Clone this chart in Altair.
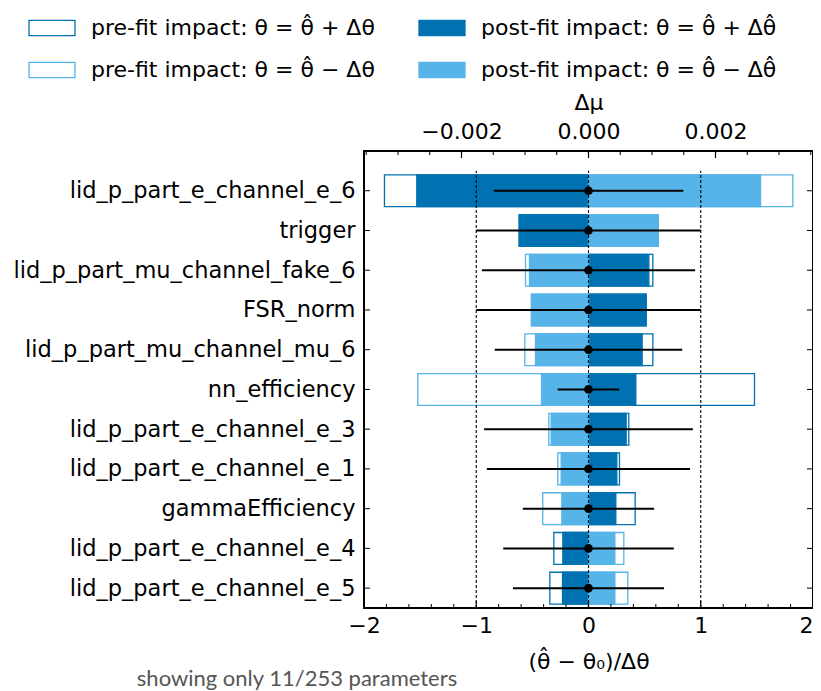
import altair as alt
import pandas as pd

# ---------------- data ----------------
names = [
    "lid_p_part_e_channel_e_6",
    "trigger",
    "lid_p_part_mu_channel_fake_6",
    "FSR_norm",
    "lid_p_part_mu_channel_mu_6",
    "nn_efficiency",
    "lid_p_part_e_channel_e_3",
    "lid_p_part_e_channel_e_1",
    "gammaEfficiency",
    "lid_p_part_e_channel_e_4",
    "lid_p_part_e_channel_e_5",
]
# impacts on mu (delta mu)
prefit_up = [-0.003213, -0.001091, 0.001013, 0.000908, 0.001013, 0.002614,
             0.000635, 0.000488, 0.000735, -0.000546, -0.000609]
prefit_down = [0.003217, 0.001097, -0.000992, -0.000898, -0.001003, -0.002688,
               -0.000625, -0.000483, -0.000720, 0.000556, 0.000619]
postfit_up = [-0.002704, -0.001091, 0.000950, 0.000908, 0.000845, 0.000745,
              0.000593, 0.000446, 0.000430, -0.000404, -0.000409]
postfit_down = [0.002709, 0.001097, -0.000929, -0.000898, -0.000835, -0.000740,
                -0.000588, -0.000430, -0.000420, 0.000415, 0.000415]
# pulls
pull_center = [0.0, 0.0, 0.0, 0.0, 0.0, 0.0, 0.0, 0.0, 0.0, 0.0, 0.0]
pull_unc = [0.845, 1.0, 0.95, 1.0, 0.835, 0.275, 0.93, 0.905, 0.585, 0.76, 0.673]

top_major = [-0.002, 0.0, 0.002]
top_minor = [-0.0035, -0.003, -0.0025, -0.0015, -0.001, -0.0005,
             0.0005, 0.001, 0.0015, 0.0025, 0.003, 0.0035]
bottom_major = [-2, -1, 0, 1, 2]
bottom_minor = [-1.8, -1.6, -1.4, -1.2, -0.8, -0.6, -0.4, -0.2,
                0.2, 0.4, 0.6, 0.8, 1.2, 1.4, 1.6, 1.8]
ref_lines = [-1, 0, 1]
note = "showing only 11/253 parameters"

lab_pre_up = "pre-fit impact: θ = θ\u0302 + Δθ"
lab_pre_dn = "pre-fit impact: θ = θ\u0302 − Δθ"
lab_post_up = "post-fit impact: θ = θ\u0302 + Δθ\u0302"
lab_post_dn = "post-fit impact: θ = θ\u0302 − Δθ\u0302"

# ---------------- styling ----------------
DARK = "#0072B2"
LIGHT = "#56B4E9"
W, H = 449, 457
MU = 0.003535
n = len(names)
FONT = "DejaVu Sans"

# ---------------- tables ----------------
rows = []
for series, vals in [(lab_pre_up, prefit_up), (lab_pre_dn, prefit_down),
                     (lab_post_up, postfit_up), (lab_post_dn, postfit_down)]:
    for i, (nm, v) in enumerate(zip(names, vals)):
        rows.append(dict(series=series, name=nm, impact=v, pos=n - 1 - i, zero=0.0))
imp = pd.DataFrame(rows)

pulls = pd.DataFrame({
    "name": names,
    "pos": [n - 1 - i for i in range(n)],
    "center": pull_center,
    "unc": pull_unc,
})

ydomain = [-0.5, n]
label_arr = "[" + ",".join("'%s'" % nm for nm in names[::-1]) + "]"
yaxis = alt.Axis(values=list(range(n)), labelExpr=label_arr + "[datum.value]",
                 ticks=False, domain=False, grid=False, labelFontSize=22.5,
                 labelPadding=9, title=None, labelFont=FONT, labelColor="black",
                 labelLimit=1000)
yscale = alt.Scale(domain=ydomain, nice=False, zero=False)

mu_scale = alt.Scale(domain=[-MU, MU], nice=False, zero=False)
mu_axis = alt.Axis(orient="top", values=top_major, format=".3f", title="Δμ",
                   ticks=False, domain=False, grid=False, labelFontSize=22,
                   titleFontSize=22, labelPadding=8, titlePadding=6,
                   labelFont=FONT, titleFont=FONT, labelColor="black",
                   titleColor="black", titleFontWeight="normal", labelFlush=False)

pull_scale = alt.Scale(domain=[-2, 2], nice=False, zero=False)
pull_axis = alt.Axis(orient="bottom", values=bottom_major, format="d",
                     title="(θ\u0302 − θ₀)/Δθ", ticks=False, domain=False, grid=False,
                     labelFontSize=22, titleFontSize=22, labelPadding=7,
                     titlePadding=15, labelFont=FONT, titleFont=FONT,
                     labelColor="black", titleColor="black",
                     titleFontWeight="normal", labelFlush=False,
                     labelAlign={"expr": "datum.value == 2 ? 'right' : 'center'"})

legend_domain = [lab_pre_up, lab_pre_dn, lab_post_up, lab_post_dn]
leg = alt.Legend(orient="none", legendX=-336, legendY=-147, columns=2,
                 columnPadding=41, rowPadding=7, title=None,
                 symbolType="M-1,-0.33H1V0.33H-1Z", symbolSize=2116,
                 symbolStrokeWidth=1.3, labelFont=FONT, labelFontSize=22,
                 labelLimit=1000, labelOffset=15, labelColor="black")

# ---------------- impact (top axis) group ----------------
bars = alt.Chart(imp).mark_rect(strokeWidth=1.3).encode(
    x=alt.X("impact:Q", scale=mu_scale, axis=mu_axis),
    x2="zero:Q",
    y=alt.Y("lo:Q", scale=yscale, axis=yaxis),
    y2="hi:Q",
    fill=alt.Fill("series:N", scale=alt.Scale(domain=legend_domain,
                                              range=["white", "white", DARK, LIGHT]),
                  legend=leg),
    stroke=alt.Stroke("series:N", scale=alt.Scale(domain=legend_domain,
                                                  range=[DARK, LIGHT, DARK, LIGHT]),
                      legend=leg),
).transform_calculate(lo="datum.pos - 0.4", hi="datum.pos + 0.4")

top_maj = alt.Chart(pd.DataFrame({"t": top_major})).mark_rule(
    color="black", strokeWidth=1.2).encode(
    x=alt.X("t:Q", scale=mu_scale, axis=mu_axis), y=alt.value(0), y2=alt.value(7))
top_min = alt.Chart(pd.DataFrame({"t": top_minor})).mark_rule(
    color="black", strokeWidth=1).encode(
    x=alt.X("t:Q", scale=mu_scale, axis=mu_axis), y=alt.value(0), y2=alt.value(4))

top_group = alt.layer(bars, top_maj, top_min)

# ---------------- pulls (bottom axis) group ----------------
def xp(field):
    return alt.X(field, scale=pull_scale, axis=pull_axis)

vlines = alt.Chart(pd.DataFrame({"x": ref_lines})).mark_rule(
    color="black", strokeWidth=1.1, strokeDash=[3, 2]).encode(
    x=xp("x:Q"), y=alt.Y("y0:Q", scale=yscale, axis=yaxis), y2="y1:Q"
).transform_calculate(y0="-0.5", y1=str(n - 0.5))

ebars = alt.Chart(pulls).mark_rule(color="black", strokeWidth=2).encode(
    x=xp("lo:Q"), x2="hi:Q", y=alt.Y("pos:Q", scale=yscale, axis=yaxis)
).transform_calculate(lo="datum.center - datum.unc", hi="datum.center + datum.unc")

pts = alt.Chart(pulls).mark_circle(color="black", size=75, opacity=1).encode(
    x=xp("center:Q"), y=alt.Y("pos:Q", scale=yscale, axis=yaxis))

ytick_l = alt.Chart(pulls).mark_rule(color="black", strokeWidth=1).encode(
    y=alt.Y("pos:Q", scale=yscale, axis=yaxis), x=alt.value(0), x2=alt.value(6))
ytick_r = alt.Chart(pulls).mark_rule(color="black", strokeWidth=1).encode(
    y=alt.Y("pos:Q", scale=yscale, axis=yaxis), x=alt.value(W - 6), x2=alt.value(W))

bot_maj = alt.Chart(pd.DataFrame({"t": bottom_major})).mark_rule(
    color="black", strokeWidth=1.2).encode(
    x=xp("t:Q"), y=alt.value(H), y2=alt.value(H - 7))
bot_min = alt.Chart(pd.DataFrame({"t": bottom_minor})).mark_rule(
    color="black", strokeWidth=1).encode(
    x=xp("t:Q"), y=alt.value(H), y2=alt.value(H - 4))

frame = alt.Chart(pd.DataFrame({"f": [0]})).mark_rect(
    fill=None, fillOpacity=0, stroke="black", strokeWidth=2).encode(
    x=alt.value(0), x2=alt.value(W), y=alt.value(0), y2=alt.value(H))

note_txt = alt.Chart(pd.DataFrame({"t": [note]})).mark_text(
    font="Lato", fontSize=22, color="#555555", align="center", baseline="middle"
).encode(text="t:N", x=alt.value(-67), y=alt.value(528))

bottom_group = alt.layer(vlines, ebars, pts, ytick_l, ytick_r, bot_maj, bot_min,
                         frame, note_txt)

chart = alt.layer(top_group, bottom_group).resolve_scale(
    x="independent").resolve_axis(x="independent").properties(
    width=W, height=H,
    autosize=alt.AutoSizeParams(type="none"),
    padding={"left": 356, "top": 143, "right": 0, "bottom": 82},
).configure_view(stroke="black", strokeWidth=2).configure(background="white")

chart.save("out.html", embed_options={"renderer": "svg", "actions": False})
